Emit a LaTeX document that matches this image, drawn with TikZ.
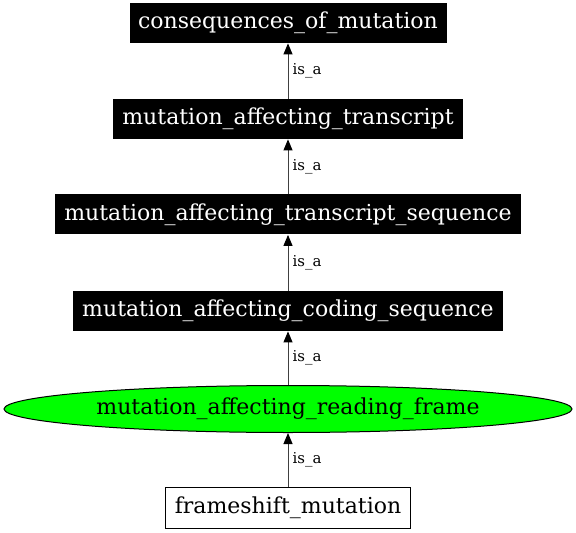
\documentclass[tikz,border=0pt]{standalone}
\usepackage{fontspec}
\newfontfamily\termfont{DejaVu Serif}
\usetikzlibrary{arrows.meta,shapes.geometric}
\tikzset{
    termbox/.style={fill=black, text=white, inner sep=0pt, minimum height=20pt, font=\termfont\fontsize{11}{14}\selectfont},
    leafbox/.style={draw=black, fill=white, line width=0.5pt, inner sep=0pt, minimum height=20.5pt, font=\termfont\fontsize{11}{14}\selectfont},
    focusnode/.style={ellipse, draw=black, fill=green, line width=0.5pt, inner sep=0pt, minimum width=284pt, minimum height=23.5pt, font=\termfont\fontsize{11}{14}\selectfont},
    isa/.style={right, inner sep=2pt, font=\termfont\fontsize{7.5}{9}\selectfont},
    isaedge/.style={draw=black!75, line width=0.5pt, -{Triangle[length=5.5pt, width=4.5pt, color=black]}}
}
\begin{document}
\begin{tikzpicture}[x=0.5pt, y=-0.5pt]
        \useasboundingbox (0,0) rectangle (576,533);
        % ontology terms
        \node[termbox, minimum width=158.5pt] (consequences) at (288,23) {consequences\_of\_mutation};
        \node[termbox, minimum width=175pt] (transcript) at (288,119) {mutation\_affecting\_transcript};
        \node[termbox, minimum width=233pt] (transcriptseq) at (288,214.5) {mutation\_affecting\_transcript\_sequence};
        \node[termbox, minimum width=215pt] (codingseq) at (288,311) {mutation\_affecting\_coding\_sequence};
        \node[focusnode] (readingframe) at (288,409) {mutation\_affecting\_reading\_frame};
        \node[leafbox, minimum width=122.5pt] (frameshift) at (288,507.5) {frameshift\_mutation};

        % is_a relations
        \foreach \lower/\upper in {transcript/consequences, transcriptseq/transcript, codingseq/transcriptseq, readingframe/codingseq, frameshift/readingframe} {
            \draw[isaedge] (\lower) -- node[isa] {is\_a} (\upper);
        }
    \end{tikzpicture}
\end{document}
